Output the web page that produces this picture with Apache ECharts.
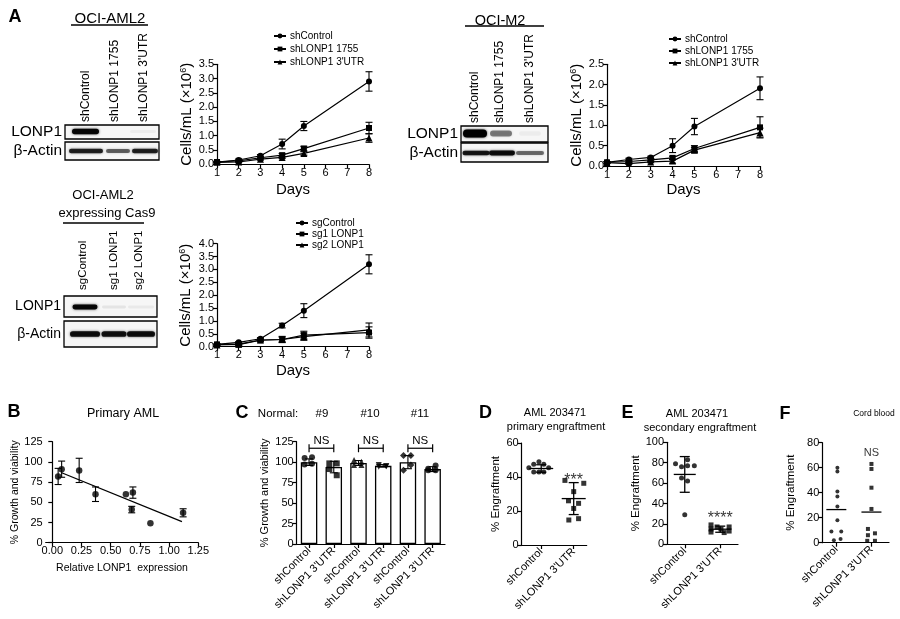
<!DOCTYPE html>
<html><head><meta charset="utf-8">
<script src="https://cdn.jsdelivr.net/npm/echarts@6/dist/echarts.min.js"></script>
<style>html,body{margin:0;padding:0;background:#fff}#c{width:900px;height:619px}</style>
</head><body><div id="c"></div>
<script>
const FONT = 'Liberation Sans, Arial, Helvetica, sans-serif';

// ---------- Panel A: growth curves ----------
const days = [1, 2, 3, 4, 5, 8];
const aml2Names = ['shControl', 'shLONP1 1755', "shLONP1 3'UTR"];
const aml2Control = [0.08, 0.15, 0.30, 0.71, 1.34, 2.90];
const aml2ControlErr = [0.02, 0.03, 0.04, 0.17, 0.16, 0.34];
const aml2Sh1755 = [0.08, 0.12, 0.23, 0.32, 0.55, 1.27];
const aml2Sh1755Err = [0.02, 0.02, 0.03, 0.06, 0.08, 0.20];
const aml2Sh3utr = [0.07, 0.08, 0.18, 0.24, 0.38, 0.92];
const aml2Sh3utrErr = [0.02, 0.02, 0.03, 0.04, 0.06, 0.15];

const m2Names = ['shControl', 'shLONP1 1755', "shLONP1 3'UTR"];
const m2Control = [0.09, 0.16, 0.21, 0.50, 0.97, 1.91];
const m2ControlErr = [0.02, 0.03, 0.03, 0.17, 0.20, 0.28];
const m2Sh1755 = [0.09, 0.11, 0.15, 0.20, 0.43, 0.95];
const m2Sh1755Err = [0.02, 0.02, 0.03, 0.04, 0.07, 0.26];
const m2Sh3utr = [0.08, 0.06, 0.10, 0.12, 0.39, 0.82];
const m2Sh3utrErr = [0.02, 0.02, 0.02, 0.05, 0.06, 0.11];

const casNames = ['sgControl', 'sg1 LONP1', 'sg2 LONP1'];
const casControl = [0.09, 0.17, 0.31, 0.82, 1.40, 3.20];
const casControlErr = [0.02, 0.03, 0.04, 0.09, 0.27, 0.37];
const casSg1 = [0.09, 0.08, 0.25, 0.28, 0.45, 0.55];
const casSg1Err = [0.02, 0.03, 0.04, 0.12, 0.15, 0.22];
const casSg2 = [0.07, 0.10, 0.26, 0.28, 0.39, 0.65];
const casSg2Err = [0.02, 0.03, 0.04, 0.09, 0.14, 0.27];

// Western blot band intensities (0..1), per lane
const blotAml2Lanes = ['shControl', 'shLONP1 1755', "shLONP1 3'UTR"];
const blotAml2Lonp1 = [0.95, 0.0, 0.04];
const blotAml2Actin = [0.8, 0.55, 0.8];
const blotM2Lanes = ['shControl', 'shLONP1 1755', "shLONP1 3'UTR"];
const blotM2Lonp1 = [1.0, 0.45, 0.04];
const blotM2Actin = [0.85, 0.9, 0.5];
const blotCasLanes = ['sgControl', 'sg1 LONP1', 'sg2 LONP1'];
const blotCasLonp1 = [0.95, 0.07, 0.05];
const blotCasActin = [0.9, 0.88, 0.9];

// ---------- Panel B ----------
const bExpr = [0.05, 0.08, 0.23, 0.37, 0.63, 0.69, 0.68, 0.84, 1.12];
const bGrowth = [82, 91, 89.5, 60, 60, 62, 41, 24, 37];
const bErr = [10, 10, 15, 9, 0, 7, 4, 0, 5];
const bFitX = [0.08, 1.11];
const bFitY = [86.6, 26];
const bTicks = [0, 0.25, 0.5, 0.75, 1.0, 1.25];

// ---------- Panel C ----------
const cLabels = ['shControl', "shLONP1 3'UTR", 'shControl', "shLONP1 3'UTR", 'shControl', "shLONP1 3'UTR"];
const cDonors = ['#9', '#10', '#11'];
const cMeans = [100, 94, 99, 95.5, 100, 91.5];
const cSD = [4, 7, 3, 1.5, 8, 3];
const cPoints = [[105, 106, 97, 98], [98.5, 98.5, 91.6, 84], [102.6, 100.6, 96.5, 96.5],
                 [94.5, 95, 96.5, 95], [108, 108, 90, 96.5], [90, 90, 92, 96]];
const cJitter = [-0.18, 0.12, -0.18, 0.12];
const cSig = ['NS', 'NS', 'NS'];
const cSigY = 117;

// ---------- Panel D ----------
const dGroups = ['shControl', "shLONP1 3'UTR"];
const dCtrl = [[0.93, 49], [0.77, 47.5], [1.08, 47.5], [0.62, 45.5], [1.23, 45.5], [0.77, 43], [0.93, 43], [1.08, 43]];
const dSh = [[1.73, 38], [2.31, 36.3], [2.0, 31.4], [1.84, 26], [2.15, 24.5], [2.0, 21.5], [1.85, 14.7], [2.15, 15.5]];
const dMean = [45, 27.3];
const dSD = [2.2, 9.4];
const dSig = ['', '***'];
const dSigY = 38;

// ---------- Panel E ----------
const eCtrl = [[0.74, 79], [0.91, 76], [1.08, 77], [1.27, 77], [1.08, 83], [0.91, 65], [1.08, 62], [1.0, 29]];
const eSh = [[1.74, 19], [1.74, 15], [1.74, 12], [1.91, 17], [2.02, 15], [2.11, 11.5], [2.25, 17], [2.25, 13]];
const eMean = [68.5, 14.8];
const eSD = [17.5, 3];
const eSig = ['', '****'];
const eSigY = 25;

// ---------- Panel F ----------
const fCtrl = [[1.03, 60], [1.03, 57], [1.03, 41], [1.03, 37], [1.03, 29], [1.03, 18], [0.86, 9], [1.14, 9], [0.93, 2], [1.12, 3]];
const fSh = [[2.0, 63], [2.0, 59], [2.0, 44], [2.0, 27], [1.9, 11], [2.1, 7.5], [1.9, 6], [1.88, 1.5], [2.1, 1.5]];
const fMean = [26.5, 24.5];
const fSig = ['', 'NS'];
const fSigY = 72;

// ================= helpers =================
const BLACK = '#000';
function yAxis(gi, min, max, interval, name, nameGap, nameSize, labFmt) {
  return {
    type: 'value', gridIndex: gi, min, max, interval,
    name, nameLocation: 'middle', nameGap, nameRotate: 90,
    nameTextStyle: { fontSize: nameSize, color: BLACK, fontFamily: FONT,
      rich: { sup: { fontSize: 9, verticalAlign: 'top', lineHeight: 15, color: BLACK, fontFamily: FONT } } },
    axisLine: { show: true, lineStyle: { color: BLACK, width: 1.2 } },
    axisTick: { show: true, length: 4, lineStyle: { color: BLACK, width: 1.2 } },
    axisLabel: { color: BLACK, fontSize: 11, margin: 3, fontFamily: FONT, formatter: labFmt },
    splitLine: { show: false }
  };
}
function dayAxis(gi, nameGap) {
  return {
    type: 'value', gridIndex: gi, min: 1, max: 8, interval: 1,
    name: 'Days', nameLocation: 'middle', nameGap,
    nameTextStyle: { fontSize: 15, color: BLACK, fontFamily: FONT },
    axisLine: { show: true, onZero: false, lineStyle: { color: BLACK, width: 1.2 } },
    axisTick: { show: true, length: 4, lineStyle: { color: BLACK, width: 1.2 } },
    axisLabel: { color: BLACK, fontSize: 11, margin: 3, fontFamily: FONT },
    splitLine: { show: false }
  };
}
function groupAxis(gi, min, max, labels) {
  return {
    type: 'value', gridIndex: gi, min, max,
    axisLine: { show: true, onZero: false, lineStyle: { color: BLACK, width: 1.2 } },
    axisTick: { show: true, length: 4, customValues: [1, 2], lineStyle: { color: BLACK, width: 1.2 } },
    axisLabel: { customValues: [1, 2], rotate: 45, color: BLACK, fontSize: 11, margin: 5, fontFamily: FONT,
      formatter: v => labels[Math.round(v) - 1] },
    splitLine: { show: false }
  };
}
function errRender(capHalf) {
  return function (params, api) {
    const x = api.value(0), lo = api.value(1), hi = api.value(2);
    if (hi - lo <= 0) return null;
    const p1 = api.coord([x, lo]), p2 = api.coord([x, hi]);
    const st = { stroke: BLACK, lineWidth: 1.1 };
    return { type: 'group', children: [
      { type: 'line', shape: { x1: p1[0], y1: p1[1], x2: p2[0], y2: p2[1] }, style: st },
      { type: 'line', shape: { x1: p1[0] - capHalf, y1: p1[1], x2: p1[0] + capHalf, y2: p1[1] }, style: st },
      { type: 'line', shape: { x1: p2[0] - capHalf, y1: p2[1], x2: p2[0] + capHalf, y2: p2[1] }, style: st }
    ] };
  };
}
function errSeries(id, xi, yi, xs, vals, errs, capHalf) {
  return { type: 'custom', name: id, xAxisIndex: xi, yAxisIndex: yi, z: 3,
    renderItem: errRender(capHalf), encode: { x: 0, y: [1, 2] },
    data: xs.map((x, i) => [x, vals[i] - errs[i], vals[i] + errs[i]]) };
}
const SYM = ['circle', 'rect', 'triangle'];
const SYMSIZE = [6, 6, 7];
function lineSet(gi, names, vals, errs) {
  const out = [];
  vals.forEach((v, k) => {
    out.push({ type: 'line', name: names[k], xAxisIndex: gi, yAxisIndex: gi, z: 4,
      data: days.map((d, i) => [d, v[i]]), symbol: SYM[k], symbolSize: SYMSIZE[k], showSymbol: true,
      lineStyle: { color: BLACK, width: 1.2 }, itemStyle: { color: BLACK, borderWidth: 0 } });
    out.push(errSeries('err' + gi + '_' + k, gi, gi, days, v, errs[k], 3.5));
  });
  return out;
}
function meanRender(halfW, capHalf) {
  return function (params, api) {
    const x = api.value(0), m = api.value(1), sd = api.value(2);
    const pm = api.coord([x, m]);
    const st = { stroke: BLACK, lineWidth: 1.3 };
    const ch = [{ type: 'line', shape: { x1: pm[0] - halfW, y1: pm[1], x2: pm[0] + halfW, y2: pm[1] }, style: st }];
    if (sd > 0) {
      const p1 = api.coord([x, m - sd]), p2 = api.coord([x, m + sd]);
      ch.push({ type: 'line', shape: { x1: p1[0], y1: p1[1], x2: p2[0], y2: p2[1] }, style: st });
      ch.push({ type: 'line', shape: { x1: p1[0] - capHalf, y1: p1[1], x2: p1[0] + capHalf, y2: p1[1] }, style: st });
      ch.push({ type: 'line', shape: { x1: p2[0] - capHalf, y1: p2[1], x2: p2[0] + capHalf, y2: p2[1] }, style: st });
    }
    return { type: 'group', children: ch };
  };
}
function dotPanel(tag, xi, yi, ctrl, sh, means, sds, sig, sigY, size, halfW, sigSize) {
  return [
    { type: 'scatter', name: tag + '-ctrl', xAxisIndex: xi, yAxisIndex: yi, data: ctrl, symbol: 'circle', symbolSize: size, itemStyle: { color: BLACK }, z: 4 },
    { type: 'scatter', name: tag + '-sh', xAxisIndex: xi, yAxisIndex: yi, data: sh, symbol: 'rect', symbolSize: size, itemStyle: { color: BLACK }, z: 4 },
    { type: 'custom', name: tag + '-mean', xAxisIndex: xi, yAxisIndex: yi, z: 5, renderItem: meanRender(halfW, 5),
      encode: { x: 0, y: 1 }, data: means.map((m, i) => [i + 1, m, sds ? sds[i] : 0]) },
    { type: 'scatter', name: tag + '-sig', xAxisIndex: xi, yAxisIndex: yi, symbolSize: 0, silent: true,
      data: sig.map((s, i) => [i + 1, sigY]),
      label: { show: true, position: 'inside', color: BLACK, fontSize: sigSize, fontFamily: FONT, formatter: p => sig[p.dataIndex] } }
  ];
}

// ================= axes & grids =================
const grids = [
  { left: 217, top: 64.3, width: 152, height: 100 },      // A1
  { left: 607, top: 64.3, width: 153, height: 101.7 },    // A2
  { left: 217, top: 243.7, width: 152, height: 103 },     // A3
  { left: 45.7, top: 441.7, width: 152.6, height: 101 },  // B
  { left: 296.7, top: 441.7, width: 148.3, height: 102.3 },// C
  { left: 521.7, top: 443, width: 65, height: 102 },      // D
  { left: 667, top: 442.3, width: 71, height: 102 },      // E
  { left: 822.3, top: 442.7, width: 66.7, height: 100 }   // F
];
const fmt1 = v => v.toFixed(1);
const cellsName = 'Cells/mL (×10{sup|6})';
const xAxes = [
  dayAxis(0, 18), dayAxis(1, 16.5), dayAxis(2, 16.5),
  { type: 'value', gridIndex: 3, min: -0.0565, max: 1.25,
    name: 'Relative LONP1  expression', nameLocation: 'middle', nameGap: 20,
    nameTextStyle: { fontSize: 10.5, color: BLACK, fontFamily: FONT },
    axisLine: { show: true, onZero: false, lineStyle: { color: BLACK, width: 1.2 } },
    axisTick: { show: true, length: 4, customValues: bTicks, lineStyle: { color: BLACK, width: 1.2 } },
    axisLabel: { customValues: bTicks, color: BLACK, fontSize: 11, margin: 3, fontFamily: FONT, formatter: v => v.toFixed(2) },
    splitLine: { show: false } },
  { type: 'category', gridIndex: 4, data: cLabels,
    axisLine: { show: true, onZero: false, lineStyle: { color: BLACK, width: 1.2 } },
    axisTick: { show: true, alignWithLabel: true, length: 4, lineStyle: { color: BLACK, width: 1.2 } },
    axisLabel: { interval: 0, rotate: 45, color: BLACK, fontSize: 11, margin: 5, fontFamily: FONT } },
  { type: 'value', gridIndex: 4, min: 0.5, max: 6.5, show: false },
  groupAxis(5, 0.4, 2.4, dGroups),
  groupAxis(6, 0.5, 2.5, dGroups),
  groupAxis(7, 0.6, 2.5, dGroups)
];
const yAxes = [
  yAxis(0, 0, 3.5, 0.5, cellsName, 22.5, 15, fmt1),
  yAxis(1, 0, 2.5, 0.5, cellsName, 22.5, 15, fmt1),
  yAxis(2, 0, 4, 0.5, cellsName, 23.5, 15, fmt1),
  yAxis(3, 0, 125, 25, '% Growth and viability', 22, 10.5),
  yAxis(4, 0, 125, 25, '% Growth and viability', 26, 11),
  yAxis(5, 0, 60, 20, '% Engraftment', 19.5, 11.5),
  yAxis(6, 0, 100, 20, '% Engraftment', 20, 11.5),
  yAxis(7, 0, 80, 20, '% Engraftment', 25, 11.5)
];

// ================= series =================
const series = [];
series.push(...lineSet(0, aml2Names, [aml2Control, aml2Sh1755, aml2Sh3utr], [aml2ControlErr, aml2Sh1755Err, aml2Sh3utrErr]));
series.push(...lineSet(1, m2Names, [m2Control, m2Sh1755, m2Sh3utr], [m2ControlErr, m2Sh1755Err, m2Sh3utrErr]));
series.push(...lineSet(2, casNames, [casControl, casSg1, casSg2], [casControlErr, casSg1Err, casSg2Err]));

// B
series.push({ type: 'scatter', name: 'B-pts', xAxisIndex: 3, yAxisIndex: 3, symbolSize: 6.5, z: 4,
  itemStyle: { color: BLACK }, data: bExpr.map((x, i) => [x, bGrowth[i]]) });
series.push(errSeries('B-err', 3, 3, bExpr, bGrowth, bErr, 3.5));
series.push({ type: 'line', name: 'B-fit', xAxisIndex: 3, yAxisIndex: 3, showSymbol: false, z: 3,
  lineStyle: { color: BLACK, width: 1.3 }, data: bFitX.map((x, i) => [x, bFitY[i]]) });

// C
series.push({ type: 'bar', name: 'C-bars', xAxisIndex: 4, yAxisIndex: 4, data: cMeans, barWidth: 16.5, z: 2,
  itemStyle: { color: '#fff', borderColor: BLACK, borderWidth: 1.3 } });
series.push(errSeries('C-err', 5, 4, cMeans.map((m, i) => i + 1), cMeans, cSD, 4));
const cSyms = ['circle', 'rect', 'triangle', 'path://M0,0 L10,0 L5,9 Z', 'diamond', 'circle'];
cPoints.forEach((pts, i) => {
  series.push({ type: 'scatter', name: 'C-pts' + i, xAxisIndex: 5, yAxisIndex: 4, symbol: cSyms[i], symbolSize: i === 4 ? 7 : 6, z: 4,
    itemStyle: { color: BLACK }, data: pts.map((v, j) => [i + 1 + cJitter[j], v]) });
});
series.push({ type: 'custom', name: 'C-sig', xAxisIndex: 5, yAxisIndex: 4, z: 5, encode: { x: [0, 1], y: 2 },
  data: cDonors.map((d, i) => [2 * i + 1, 2 * i + 2, cSigY]),
  renderItem: function (params, api) {
    const a = api.coord([api.value(0), api.value(2)]), b = api.coord([api.value(1), api.value(2)]);
    const st = { stroke: BLACK, lineWidth: 1.2 };
    return { type: 'group', children: [
      { type: 'line', shape: { x1: a[0], y1: a[1], x2: b[0], y2: b[1] }, style: st },
      { type: 'line', shape: { x1: a[0], y1: a[1] - 4, x2: a[0], y2: a[1] + 4 }, style: st },
      { type: 'line', shape: { x1: b[0], y1: b[1] - 4, x2: b[0], y2: b[1] + 4 }, style: st },
      { type: 'text', x: (a[0] + b[0]) / 2, y: a[1] - 1, style: { text: cSig[params.dataIndex], fill: BLACK,
        font: '11.5px ' + FONT, textAlign: 'center', textVerticalAlign: 'bottom' } }
    ] };
  } });

// D, E, F
series.push(...dotPanel('D', 6, 5, dCtrl, dSh, dMean, dSD, dSig, dSigY, 5, 12, 16));
series.push(...dotPanel('E', 7, 6, eCtrl, eSh, eMean, eSD, eSig, eSigY, 5, 11, 16));
series.push(...dotPanel('F', 8, 7, fCtrl, fSh, fMean, null, fSig, fSigY, 4, 10, 11));

// ================= graphics (labels, blots) =================
const G = [];
function txt(x, y, text, size, opts) {
  G.push(Object.assign({ type: 'text', x, y, silent: true,
    style: { text, fill: BLACK, font: (opts && opts.bold ? 'bold ' : '') + size + 'px ' + FONT,
      textAlign: (opts && opts.align) || 'center', textVerticalAlign: 'middle' } },
    opts && opts.rot ? { rotation: opts.rot } : {}));
}
// panel letters
[['A', 15, 17], ['B', 14, 412], ['C', 242, 413], ['D', 485.5, 413], ['E', 627.5, 413], ['F', 785, 414]]
  .forEach(l => txt(l[1], l[2], l[0], 18, { bold: true }));
// titles
txt(123, 414, 'Primary AML', 12.5);
txt(278, 414, 'Normal:', 11.5);
[322, 370, 420].forEach((x, i) => txt(x, 414, cDonors[i], 11.5));
txt(555, 413, 'AML 203471', 11); txt(556, 427, 'primary engraftment', 11);
txt(697, 414, 'AML 203471', 11); txt(700, 428, 'secondary engraftment', 11);
txt(874, 414, 'Cord blood', 8.5);

function blot(cfg) {
  cfg.titles.forEach(t => txt(t[1], t[2], t[0], cfg.titleFont));
  G.push({ type: 'line', silent: true, shape: { x1: cfg.ulX[0], y1: cfg.ulY, x2: cfg.ulX[1], y2: cfg.ulY }, style: { stroke: BLACK, lineWidth: 1.6 } });
  cfg.lanes.forEach((l, i) => txt(cfg.laneX[i], cfg.laneBottom, l, cfg.laneFont, { align: 'left', rot: Math.PI / 2 }));
  cfg.rows.forEach(r => {
    G.push({ type: 'rect', silent: true, shape: { x: cfg.x0, y: r.y0, width: cfg.x1 - cfg.x0, height: r.y1 - r.y0 },
      style: { fill: '#f6f6f6', stroke: BLACK, lineWidth: 1.3 } });
    txt(cfg.x0 - 3, (r.y0 + r.y1) / 2, r.label, cfg.labelFont, { align: 'right' });
    r.vals.forEach((v, i) => {
      if (v <= 0.01) return;
      const h = r.h * (0.55 + 0.45 * v);
      const w = r.w[i];
      G.push({ type: 'rect', silent: true,
        shape: { x: r.cx[i] - w / 2, y: r.cy - h / 2, width: w, height: h, r: h / 2 },
        style: { fill: 'rgba(0,0,0,' + v + ')', shadowBlur: 2.5, shadowColor: 'rgba(0,0,0,' + (v * 0.8) + ')' } });
    });
  });
}
blot({ titles: [['OCI-AML2', 110, 19]], titleFont: 15, ulX: [71, 148], ulY: 25,
  lanes: blotAml2Lanes, laneX: [86, 115, 144], laneBottom: 122, laneFont: 12, x0: 65, x1: 159, labelFont: 15.5,
  rows: [
    { label: 'LONP1', y0: 125, y1: 139, cy: 131.5, h: 5.5, vals: blotAml2Lonp1, cx: [85.5, 114, 143], w: [27, 26, 26] },
    { label: 'β-Actin', y0: 142, y1: 160, cy: 151, h: 5, vals: blotAml2Actin, cx: [86, 118, 145], w: [34, 24, 26] }
  ] });
blot({ titles: [['OCI-M2', 500, 20.5]], titleFont: 14.5, ulX: [465, 544], ulY: 26,
  lanes: blotM2Lanes, laneX: [475, 500, 530], laneBottom: 123, laneFont: 12, x0: 461, x1: 548, labelFont: 15.5,
  rows: [
    { label: 'LONP1', y0: 126, y1: 142, cy: 133.5, h: 8, vals: blotM2Lonp1, cx: [475, 501, 530], w: [24, 22, 22] },
    { label: 'β-Actin', y0: 143, y1: 162, cy: 153, h: 5, vals: blotM2Actin, cx: [476, 502, 530], w: [27, 26, 28] }
  ] });
blot({ titles: [['OCI-AML2', 103, 195], ['expressing Cas9', 107, 213]], titleFont: 13, ulX: [63, 144], ulY: 223,
  lanes: blotCasLanes, laneX: [83, 114, 139], laneBottom: 290, laneFont: 11.5, x0: 64, x1: 157, labelFont: 14,
  rows: [
    { label: 'LONP1', y0: 296, y1: 317, cy: 307, h: 5, vals: blotCasLonp1, cx: [85, 114, 141], w: [25, 24, 26] },
    { label: 'β-Actin', y0: 321, y1: 347, cy: 334, h: 6, vals: blotCasActin, cx: [85, 114, 141], w: [30, 25, 28] }
  ] });

// ================= legends =================
function legend(names, left, top, gap) {
  return { data: names, orient: 'vertical', left, top, padding: 0, itemWidth: 12, itemHeight: 6, itemGap: gap,
    selectedMode: false, textStyle: { fontSize: 10, color: BLACK, fontFamily: FONT, padding: [0, 0, 0, -1] } };
}

const chart = echarts.init(document.getElementById('c'), null, { renderer: 'canvas' });
chart.setOption({
  animation: false,
  backgroundColor: '#fff',
  textStyle: { fontFamily: FONT },
  grid: grids,
  xAxis: xAxes,
  yAxis: yAxes,
  legend: [legend(aml2Names, 273, 31, 3), legend(m2Names, 668, 34, 2), legend(casNames, 295, 218, 1)],
  series,
  graphic: G
});
</script></body></html>
